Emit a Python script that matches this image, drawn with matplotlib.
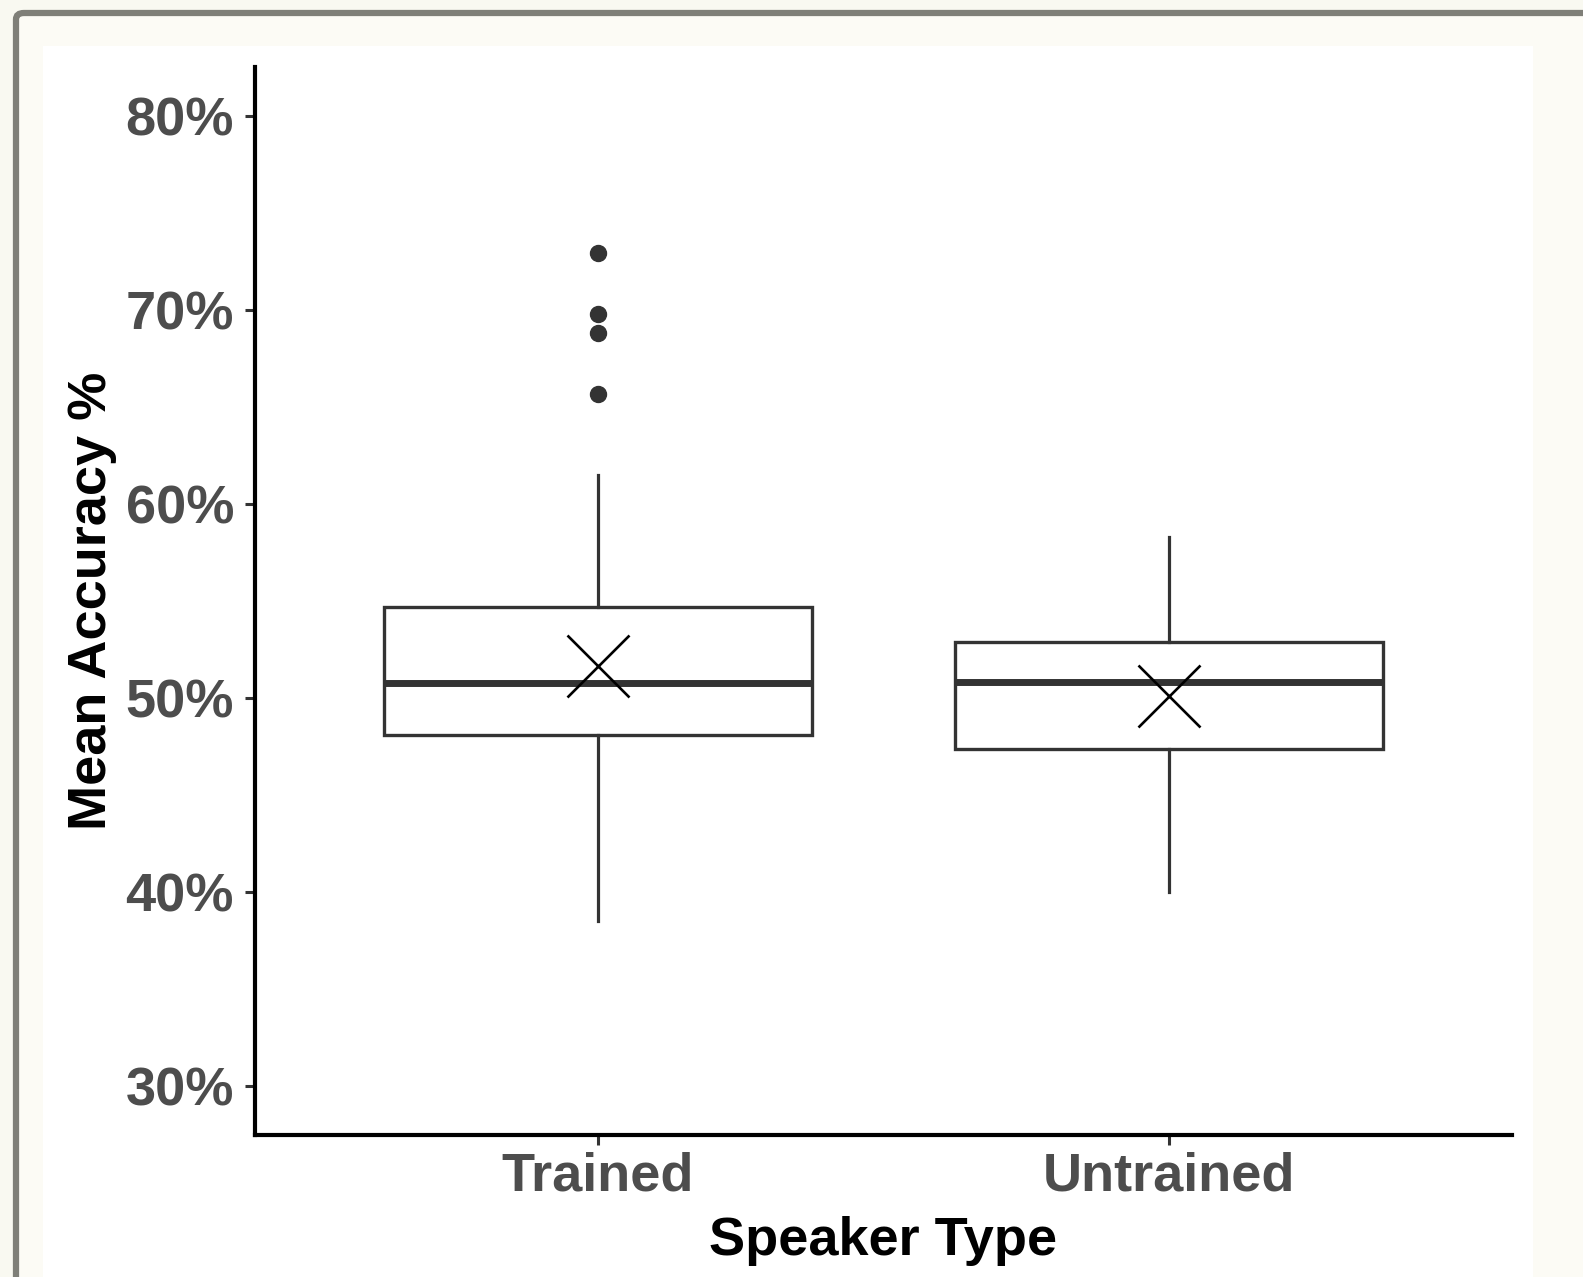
import numpy as np
import matplotlib
matplotlib.use('Agg')
import matplotlib.pyplot as plt
from matplotlib.patches import FancyBboxPatch, Rectangle
from matplotlib.ticker import FuncFormatter

plt.rcParams['font.family'] = ['Liberation Sans', 'DejaVu Sans']

# ---- data (mean accuracy %) ----
groups = ['Trained', 'Untrained']
q1 = [48.1, 47.4]
median = [50.8, 50.85]
q3 = [54.7, 52.9]
whisk_lo = [38.5, 40.0]
whisk_hi = [61.5, 58.3]
means = [51.65, 50.1]
outliers = [[72.9, 69.8, 68.8, 65.65], []]
yticks = [30, 40, 50, 60, 70, 80]

W, H, DPI = 1583, 1277, 100
fig = plt.figure(figsize=(W / DPI, H / DPI), dpi=DPI, facecolor='#f9f9f1')

# page decoration: rounded grey frame, cream inset, white panel (kept behind the axes)
fig.patches.append(FancyBboxPatch((16 / W, -0.2), 1.2, 1 - 13 / H + 0.2, boxstyle='round,pad=0,rounding_size=0.005',
                                  transform=fig.transFigure, fc='#fcfbf5', ec='#7f7f78', lw=4.5, zorder=-3))
fig.patches.append(Rectangle((43 / W, 0), (1533 - 43) / W, 1 - 46 / H, transform=fig.transFigure,
                             fc='white', ec='none', zorder=-2))

ax = fig.add_axes([255 / W, 1 - 1135 / H, (1512 - 255) / W, (1135 - 67) / H])
ax.set_facecolor('white')

stats = []
for i, g in enumerate(groups):
    stats.append(dict(label=g, q1=q1[i], med=median[i], q3=q3[i], whislo=whisk_lo[i], whishi=whisk_hi[i],
                      fliers=outliers[i], mean=means[i]))

pos = np.arange(1, len(groups) + 1)
ax.bxp(stats, positions=pos, widths=0.75, showcaps=False, showmeans=False, patch_artist=True,
       boxprops=dict(facecolor='white', edgecolor='#333333', linewidth=2.4),
       medianprops=dict(color='#333333', linewidth=5.0, solid_capstyle='butt'),
       whiskerprops=dict(color='#333333', linewidth=2.3),
       flierprops=dict(marker='o', markerfacecolor='#333333', markeredgecolor='#333333', markersize=11.5))
ax.plot(pos, means, linestyle='none', marker='x', color='black', markersize=45, markeredgewidth=1.9, zorder=5)

ax.set_xlim(0.4, 2.6)
ax.set_ylim(27.5, 82.5)
ax.set_yticks(yticks)
ax.yaxis.set_major_formatter(FuncFormatter(lambda v, p: f'{v:.0f}%'))
ax.set_xticks(pos)
ax.set_xticklabels(groups)

for s in ['top', 'right']:
    ax.spines[s].set_visible(False)
for s in ['left', 'bottom']:
    ax.spines[s].set_linewidth(3)
    ax.spines[s].set_color('black')
ax.tick_params(axis='both', length=7.2, width=2.2, color='#333333', labelcolor='#4d4d4d', labelsize=39)
ax.tick_params(axis='y', pad=8)
ax.tick_params(axis='x', pad=5)
for lab in ax.get_xticklabels() + ax.get_yticklabels():
    lab.set_fontweight('bold')

ax.set_xlabel('Speaker Type', fontsize=39, fontweight='bold', color='black', labelpad=10)
ax.set_ylabel('Mean Accuracy %', fontsize=39, fontweight='bold', color='black', labelpad=6)

fig.savefig('out.png', dpi=DPI, facecolor=fig.get_facecolor())
